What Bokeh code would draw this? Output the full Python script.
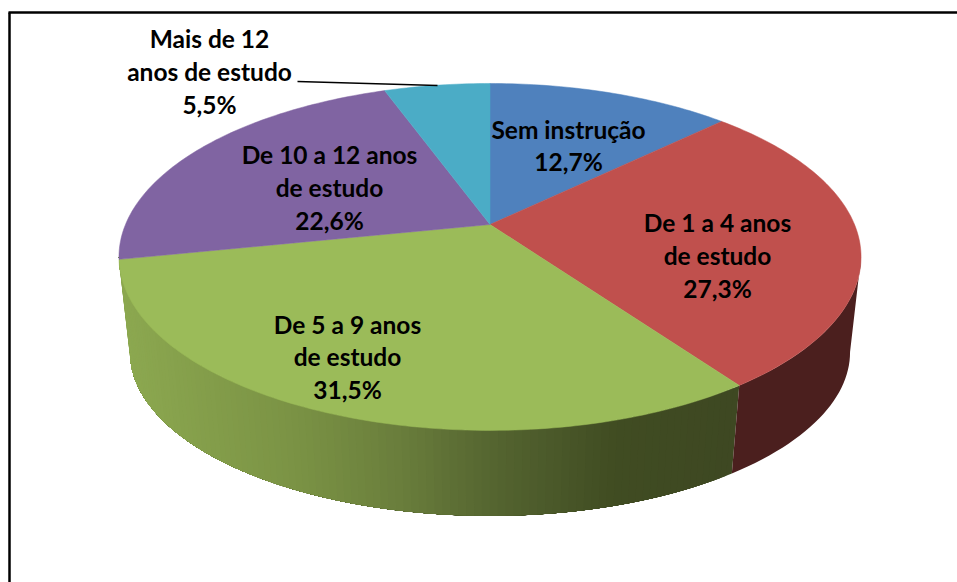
import math
from bokeh.plotting import figure
from bokeh.models import Range1d
from bokeh.core.properties import value
from bokeh.embed import file_html
from bokeh.resources import INLINE

categories = ["Sem instrução", "De 1 a 4 anos\nde estudo", "De 5 a 9 anos\nde estudo",
              "De 10 a 12 anos\nde estudo", "Mais de 12\nanos de estudo"]
shares = [12.7, 27.3, 31.5, 22.6, 5.5]
share_labels = ["12,7%", "27,3%", "31,5%", "22,6%", "5,5%"]
top_colors = ["#4F81BD", "#C0504D", "#9BBB59", "#8064A2", "#4BACC6"]

# Layout (screen pixels of the photographed window)
CX = 489.5
K = 0.187
TOP = dict(cy=224.0, sx=364.5, sy=167.4)
BOT = dict(cy=321.0, sx=353.7, sy=158.0)
label_xy = [(568, 145), (717, 255), (347, 356.5), (329, 187), (209, 71)]
RED_WALL = "#4B1F1E"
GREEN_STOPS = [(120, (140, 168, 80)), (300, (122, 146, 68)), (400, (106, 126, 60)),
               (500, (84, 100, 48)), (620, (64, 76, 34)), (740, (62, 72, 34))]


def project(deg, g):
    t = math.radians(deg)
    u, v = math.sin(t), math.cos(t)
    d = 1 + K * v
    return CX + g["sx"] * u / d, g["cy"] - g["sy"] * v / d


def green_at(x):
    for (x0, c0), (x1, c1) in zip(GREEN_STOPS, GREEN_STOPS[1:]):
        if x <= x1:
            f = max(0.0, (x - x0) / (x1 - x0))
            return tuple(round(a + (b - a) * f) for a, b in zip(c0, c1))
    return GREEN_STOPS[-1][1]


total = sum(shares)
edges = [0.0]
for s in shares:
    edges.append(edges[-1] + s / total * 360.0)

# Angle where the projected outline is widest: the wall's outer edge leaves from there
tangent = math.degrees(math.acos(-K))

p = figure(width=957, height=582, output_backend="svg", toolbar_location=None,
           x_range=Range1d(0, 957), y_range=Range1d(582, 0),
           x_axis_type=None, y_axis_type=None, min_border=0,
           background_fill_color="white", border_fill_color="white", outline_line_color=None)
p.grid.visible = False

# Frame: only left and top edges are visible in the window
p.line([9, 9], [582, 12], line_color="black", line_width=2.5)
p.line([8, 957], [12, 12], line_color="black", line_width=2.5)


def wall_band(a0, a1, col):
    n = max(2, int(abs(a1 - a0) / 1.5))
    angles = [a0 + (a1 - a0) * j / n for j in range(n + 1)]
    t = [project(a, TOP) for a in angles]
    b = [project(a, BOT) for a in reversed(angles)]
    p.patch([q[0] for q in t + b], [q[1] for q in t + b], fill_color=col, line_color=None)


# Green wall: strips painted from the dark end leftwards; every strip overlaps the next one
a_left = 360.0 - tangent
a_right = edges[2]
steps = 110
for i in range(steps):
    a = a_right + (a_left - a_right) * i / steps
    x_mid = project(a, TOP)[0]
    wall_band(a, a_left, "#%02x%02x%02x" % green_at(x_mid))

# Red wall
wall_band(tangent, edges[2], RED_WALL)

# Top faces
for i, col in enumerate(top_colors):
    a0, a1 = edges[i], edges[i + 1]
    n = max(8, int(a1 - a0))
    pts = [project(a0 + (a1 - a0) * j / n, TOP) for j in range(n + 1)]
    xs = [CX] + [q[0] for q in pts]
    ys = [TOP["cy"]] + [q[1] for q in pts]
    p.patch(xs, ys, fill_color=col, line_color=col, line_width=0.5)

# Leader line of the last slice
p.line([297, 437], [81, 85], line_color="black", line_width=1.5)

# Labels
texts = [c + "\n" + s for c, s in zip(categories, share_labels)]
p.text(x=[q[0] for q in label_xy], y=[q[1] for q in label_xy], text=texts,
       text_font=value("Lato"), text_font_style="bold", text_font_size="24.5px",
       text_color="black", text_align="center", text_baseline="middle",
       text_line_height=1.134)

open("out.html", "w").write(file_html(p, INLINE))
